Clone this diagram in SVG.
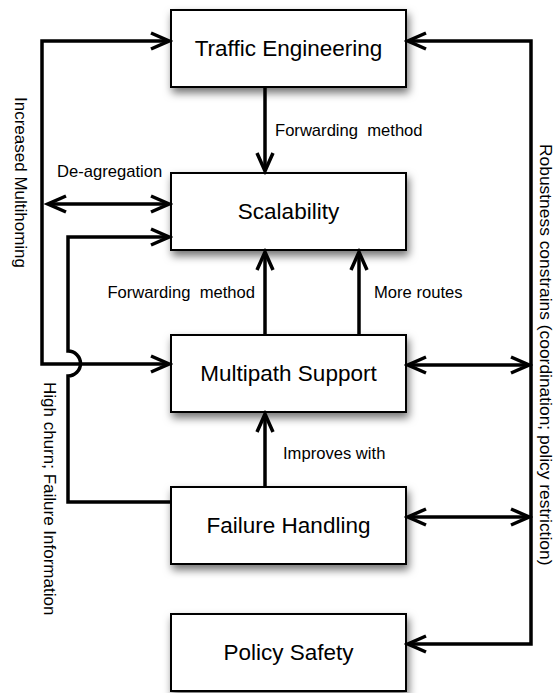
<svg xmlns="http://www.w3.org/2000/svg" width="555" height="693" viewBox="0 0 555 693">
  <defs>
    <filter id="shadow" x="-20%" y="-30%" width="140%" height="170%">
      <feDropShadow dx="2" dy="5" stdDeviation="4" flood-color="#000" flood-opacity="0.55"/>
    </filter>
    <marker id="arr" markerUnits="userSpaceOnUse" viewBox="-22 -11 26 22" markerWidth="26" markerHeight="22" refX="0" refY="0" orient="auto-start-reverse">
      <path d="M-18,-8 L0,0 L-18,8" fill="none" stroke="#000" stroke-width="3.5" stroke-linejoin="miter"/>
    </marker>
  </defs>
  <style>
    .box { fill: #fff; stroke: #000; stroke-width: 2; filter: url(#shadow); }
    .title { font-family: "Liberation Sans", Arial, Helvetica, sans-serif; font-size: 22.5px; fill: #000; text-anchor: middle; }
    .lbl { font-family: "Liberation Sans", Arial, Helvetica, sans-serif; font-size: 16.6px; fill: #000; white-space: pre; }
    .vlbl { font-family: "Liberation Sans", Arial, Helvetica, sans-serif; font-size: 17px; fill: #000; white-space: pre; }
    .wire { fill: none; stroke: #000; stroke-width: 3.5; stroke-linejoin: miter; }
    .arrow { marker-end: url(#arr); }
    .both { marker-start: url(#arr); marker-end: url(#arr); }
  </style>

  <rect width="555" height="693" fill="#fff"/>

  <!-- nodes -->
  <g id="traffic-engineering">
    <rect class="box" x="171" y="10" width="235" height="77"/>
    <text class="title" x="288.5" y="56">Traffic Engineering</text>
  </g>
  <g id="scalability">
    <rect class="box" x="171" y="173" width="235" height="77"/>
    <text class="title" x="288.5" y="219">Scalability</text>
  </g>
  <g id="multipath-support">
    <rect class="box" x="171" y="335" width="235" height="77"/>
    <text class="title" x="288.5" y="381">Multipath Support</text>
  </g>
  <g id="failure-handling">
    <rect class="box" x="171" y="487" width="235" height="77"/>
    <text class="title" x="288.5" y="533">Failure Handling</text>
  </g>
  <g id="policy-safety">
    <rect class="box" x="171" y="614" width="235" height="77"/>
    <text class="title" x="288.5" y="660">Policy Safety</text>
  </g>

  <!-- connectors -->
  <g id="connectors">
    <!-- increased multihoming loop (left, outer) -->
    <path class="wire both" d="M169,41 L42,41 L42,364 L169,364"/>
    <!-- high churn feedback (left, inner) with hop over the outer wire -->
    <path class="wire arrow" d="M171,502 L68,502 L68,376 A12.5,12.5 0 0 0 68,351 L68,237 L169,237"/>
    <!-- de-aggregation -->
    <path class="wire both" d="M48,204 L169,204"/>
    <!-- vertical dependencies -->
    <path class="wire arrow" d="M265,87 L265,171"/>
    <path class="wire arrow" d="M265,335 L265,252"/>
    <path class="wire arrow" d="M359,335 L359,252"/>
    <path class="wire arrow" d="M265,487 L265,414"/>
    <!-- robustness constraints (right) -->
    <path class="wire both" d="M408,41 L531,41 L531,644 L408,644"/>
    <path class="wire both" d="M408,365 L529,365"/>
    <path class="wire both" d="M408,517 L529,517"/>

    <!-- labels -->
    <text class="lbl" x="275" y="136">Forwarding  method</text>
    <text class="lbl" x="57" y="177">De-agregation</text>
    <text class="lbl" x="255" y="298" text-anchor="end">Forwarding  method</text>
    <text class="lbl" x="374" y="298">More routes</text>
    <text class="lbl" x="283" y="459">Improves with</text>
    <text class="vlbl" transform="translate(14.5,97) rotate(90)">Increased Multihoming</text>
    <text class="vlbl" transform="translate(43.5,382) rotate(90)">High churn; Failure Information</text>
    <text class="vlbl" transform="translate(540,144) rotate(90)" style="font-size:17.4px">Robustness constrains (coordination; policy restriction)</text>
  </g>
</svg>
